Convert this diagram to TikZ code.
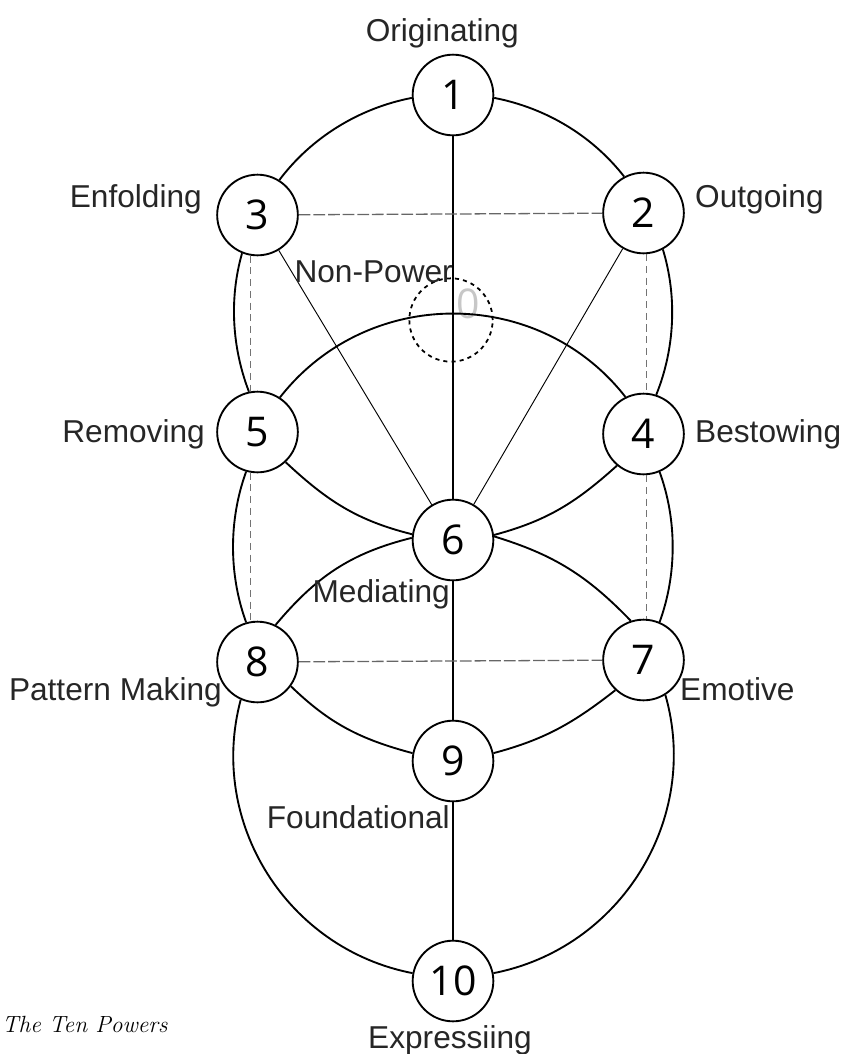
\documentclass[tikz,border=0pt]{standalone}
\usepackage{fontspec}
\newfontfamily\labfont{Liberation Sans}
\newfontfamily\digfont{Open Sans}
\begin{document}
\begin{tikzpicture}[x=0.03cm,y=-0.03cm,
  pw/.style={circle,draw,line width=1.6pt,fill=white,minimum size=2.42cm,inner sep=0pt,
    font=\digfont\fontsize{35}{36}\selectfont},
  lbl/.style={font=\labfont\fontsize{27}{30}\selectfont,text=black!85,inner sep=0pt},
  arcline/.style={line width=1.6pt},
  thinline/.style={line width=0.8pt},
  hdash/.style={line width=1.1pt,draw=black!60,dash pattern=on 10pt off 2.5pt},
  vdash/.style={line width=1.1pt,draw=black!55,dash pattern=on 6pt off 4pt},
]
\useasboundingbox (0,0) rectangle (843,1054);

% nodes
\node[pw] (n1) at (453,95) {1};
\node[pw] (n2) at (643.5,213) {2};
\node[pw] (n3) at (257.5,215) {3};
\node[pw] (n4) at (643.5,434) {4};
\node[pw] (n5) at (257.5,432) {5};
\node[pw] (n6) at (453,540) {6};
\node[pw] (n7) at (643.5,660) {7};
\node[pw] (n8) at (257.5,662) {8};
\node[pw] (n9) at (453,761) {9};
\node[pw] (n10) at (453,981) {10};
\node[circle,draw,line width=1.5pt,dash pattern=on 3.5pt off 3.5pt,minimum size=2.5cm,inner sep=0pt] (n0) at (451,320) {};
\node[inner sep=0pt,font=\digfont\fontsize{35}{36}\selectfont,text=black!22] (zero) at (468.5,303.5) {0};

% outer arcs
\draw[arcline] (n3.58) to[out=53,in=191,looseness=0.88] (n1.184);
\draw[arcline] (n1.-4) to[out=-11,in=128,looseness=0.88] (n2.118);
\draw[arcline] (n3.248) to[out=254,in=111,looseness=0.87] (n5.102);
\draw[arcline] (n2.298) to[out=287,in=68,looseness=0.87] (n4.72);
\draw[arcline] (n5.254) to[out=250,in=110,looseness=0.87] (n8.106);
\draw[arcline] (n4.293) to[out=290,in=70,looseness=0.87] (n7.67);
\draw[arcline] (n8.246) to[out=255,in=169,looseness=1.01] (n10.169);
\draw[arcline] (n10.11) to[out=11,in=286,looseness=1.01] (n7.302);

% inner arcs
\draw[arcline] (n5.57) to[out=52,in=128,looseness=1.05] (n4.116);
\draw[arcline] (n5.-47) to[out=-43,in=166] (n6.172);
\draw[arcline] (n4.230) to[out=222,in=15] (n6.7);
\draw[arcline] (n8.64) to[out=50,in=194] (n6.177);
\draw[arcline] (n7.108) to[out=134,in=-17] (n6.5);
\draw[arcline] (n8.-36) to[out=-44,in=165] (n9.169);
\draw[arcline] (n7.227) to[out=218,in=15] (n9.11);

% straight lines
\draw[arcline] (n1) -- (n6);
\draw[arcline] (n6) -- (n9);
\draw[arcline] (n9) -- (n10);
\draw[thinline] (n3) -- (n6);
\draw[thinline] (n2) -- (n6);

% dashed lines
\draw[hdash] (n3) -- (n2);
\draw[hdash] (n8) -- (n7);
\draw[vdash] (n3.260) -- (n5.100);
\draw[vdash] (n5.260) -- (n8.100);
\draw[vdash] (n2.274) -- (n4.86);
\draw[vdash] (n4.274) -- (n7.86);

% labels
\node[lbl,anchor=base east] (lOrig) at (519,41) {Originating};
\node[lbl,anchor=base west] (lOut) at (695,207) {Outgoing};
\node[lbl,anchor=base east] (lEnf) at (202,207) {Enfolding};
\node[lbl,anchor=base east] (lNon) at (453,282) {Non-Power};
\node[lbl,anchor=base east] (lRem) at (205,442) {Removing};
\node[lbl,anchor=base west] (lBes) at (695,442) {Bestowing};
\node[lbl,anchor=base east] (lMed) at (450,602) {Mediating};
\node[lbl,anchor=base east] (lPat) at (222,700) {Pattern Making};
\node[lbl,anchor=base west] (lEmo) at (680,700) {Emotive};
\node[lbl,anchor=base east] (lFou) at (450,828) {Foundational};
\node[lbl,anchor=base west] (lExp) at (368,1048) {Expressiing};
\node[anchor=base west,inner sep=0pt,font=\fontsize{20}{24}\selectfont\itshape] (cap) at (2,1032) {The Ten Powers};
\end{tikzpicture}
\end{document}
